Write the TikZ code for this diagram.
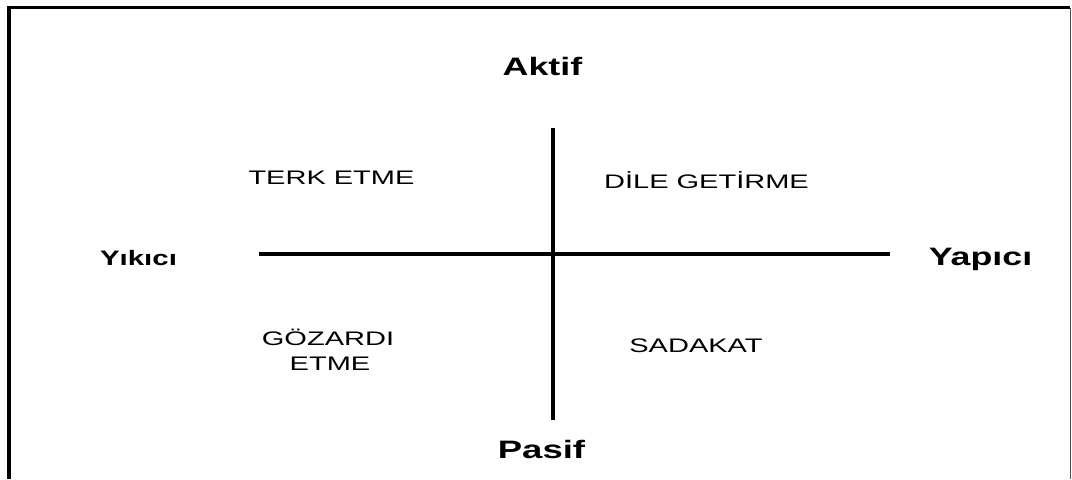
\documentclass[tikz,border=0pt]{standalone}
\usepackage{fontspec}
\setmainfont{Liberation Sans}
\begin{document}
\begin{tikzpicture}[x=0.75pt,y=-0.75pt,
  axis/.style={line width=2.5pt,black},
  quadlabel/.style={anchor=base,inner sep=0pt,xscale=1.48,font=\fontsize{14.7pt}{18pt}\selectfont},
  polelabel/.style={anchor=base,inner sep=0pt,xscale=1.42,font=\fontsize{18.9pt}{22pt}\selectfont\bfseries}]
\useasboundingbox (0,0) rectangle (1072,479);
% open frame: heavy left and top edges, thin right edge
\draw[line width=2.4pt,black] (9,479) -- (9,7.5) -- (1070,7.5);
\draw[line width=1.2pt,black!70] (1070.5,7.5) -- (1070.5,479);
% axis end points
\coordinate (vtop) at (553,128);
\coordinate (vbot) at (553,420);
\coordinate (hleft) at (259,254);
\coordinate (hright) at (890,254);
\draw[axis] (vtop) -- (vbot);
\draw[axis] (hleft) -- (hright);
% poles
\node[polelabel] (aktif) at (542.5,75) {Aktif};
\node[polelabel,xscale=1.02] (pasif) at (541.5,458) {Pasif};
\node[polelabel,font=\fontsize{15.7pt}{19pt}\selectfont\bfseries,xscale=0.99] (yikici) at (138.5,265) {Yıkıcı};
\node[polelabel] (yapici) at (980.5,265) {Yapıcı};
% quadrants
\node[quadlabel] (terk) at (331.5,184) {TERK ETME};
\node[quadlabel] (dile) at (706.5,188) {DİLE GETİRME};
\node[quadlabel] (goz1) at (328,345) {GÖZARDI};
\node[quadlabel] (goz2) at (330,370) {ETME};
\node[quadlabel] (sadakat) at (696,352) {SADAKAT};
\end{tikzpicture}
\end{document}
